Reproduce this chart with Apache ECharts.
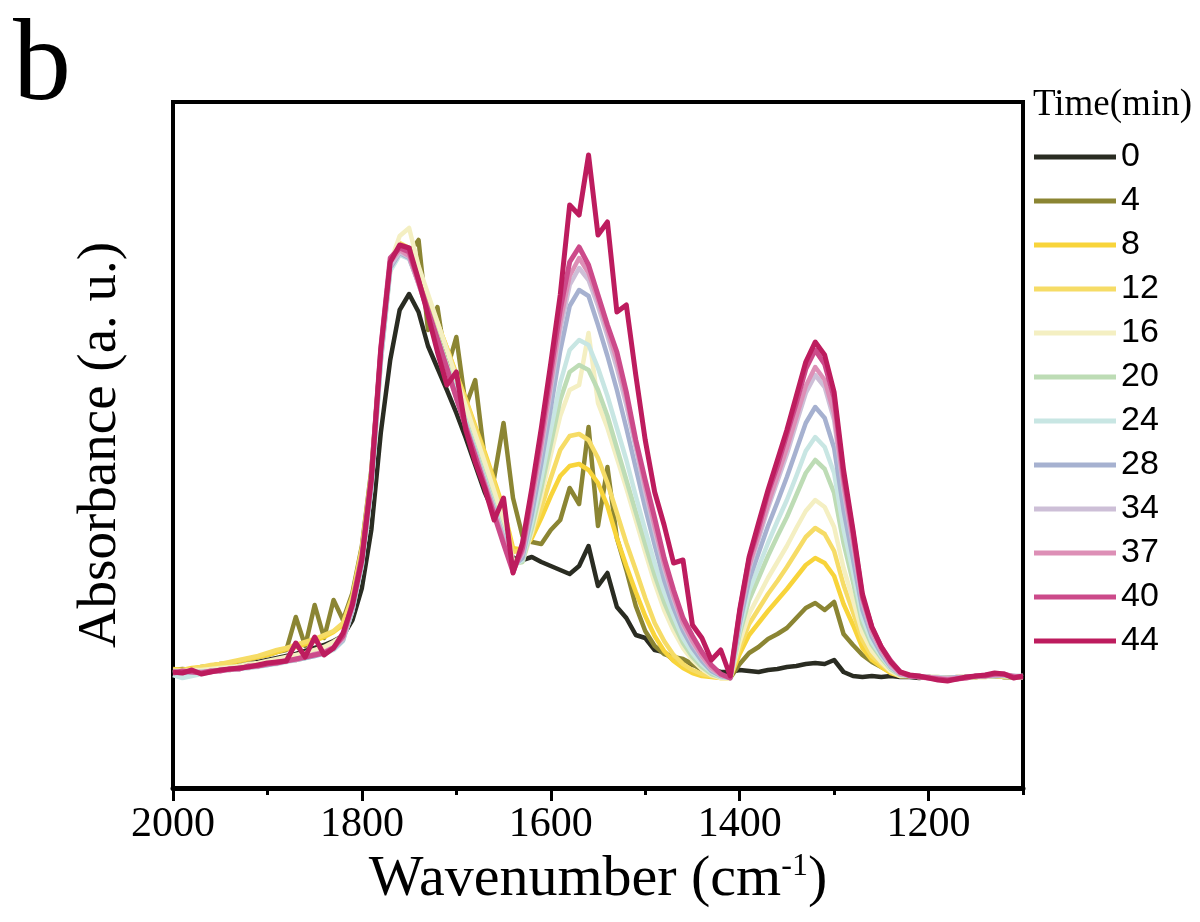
<!DOCTYPE html>
<html><head><meta charset="utf-8">
<script src="https://cdn.jsdelivr.net/npm/echarts@6/dist/echarts.min.js"></script>
<style>html,body{margin:0;padding:0;background:#fff}#c{width:1200px;height:922px}</style>
</head><body><div id="c"></div>
<script>
const wavenumbers = [2000,1990,1980,1970,1960,1950,1940,1930,1920,1910,1900,1890,1880,1870,1860,1850,1840,1830,
1820,1810,1800,1790,1780,1770,1760,1750,1740,1730,1720,1710,1700,1690,1680,1670,1660,1650,1640,
1630,1620,1610,1600,1590,1580,1570,1560,1550,1540,1530,1520,1510,1500,1490,1480,1470,1460,1450,1440,1430,1420,
1410,1400,1390,1380,1370,1360,1350,1340,1330,1320,1310,1300,1290,1280,1270,1260,1250,1240,1230,
1220,1210,1200,1190,1180,1170,1160,1150,1140,1130,1120,1110,1100];

const times = ['0','4','8','12','16','20','24','28','34','37','40','44'];
const colors = ['#2a2c22','#8b8533','#f8d43a','#f6dc66','#f4efc2','#bddcb5','#c8e6e3','#a6b1d0','#cdbfd7','#dd8fb6','#cc4a8a','#bd1c5e'];

const abs0 = [116,117,116,118,119,120,121,122,124,126,128,130,132,134,137,140,143,147,
152,168,200,258,355,428,478,494,476,442,420,398,375,350,323,296,275,252,230,
228,231,226,222,218,214,222,242,202,215,181,170,153,150,138,136,128,127,123,122,119,116,
116,118,117,116,118,119,121,122,124,125,124,128,116,112,111,112,111,112,111,
111,110,111,110,110,110,111,111,112,112,111,111,111];
const abs4 = [118,119,118,121,122,124,124,127,128,131,133,136,138,171,142,183,150,188,
168,195,242,318,436,524,540,535,548,458,481,418,451,382,408,330,310,365,290,
252,246,244,258,268,300,284,361,262,321,250,218,182,157,142,134,131,129,124,118,114,112,
110,124,135,141,149,154,160,170,180,185,178,186,154,143,133,126,121,116,113,
112,111,111,110,110,110,111,111,112,112,111,111,111];
const abs8 = [119,118,120,121,122,124,125,127,129,131,133,136,139,141,144,147,151,156,
163,190,238,312,432,520,543,538,514,490,465,440,414,389,362,336,308,279,240,
238,250,270,292,312,322,324,318,305,282,250,222,196,172,152,137,127,120,115,112,111,110,
110,134,153,165,177,188,199,211,223,230,225,212,184,163,140,128,121,115,112,
112,111,111,110,110,111,111,111,112,112,111,111,111];
const abs12 = [118,118,119,121,123,124,126,128,130,132,135,138,140,143,146,149,153,157,
165,192,240,315,435,522,545,540,515,490,465,440,413,388,360,333,305,275,236,
238,254,280,310,338,352,354,348,330,305,275,245,218,190,165,147,133,124,118,114,112,110,
110,140,164,179,194,207,221,236,251,260,254,237,203,176,148,132,124,116,112,
112,112,111,111,110,110,111,111,111,112,112,111,111];
const abs16 = [117,117,118,118,119,120,121,122,124,125,127,129,131,133,135,138,141,146,
152,182,228,305,432,525,552,560,522,494,466,438,410,382,354,326,297,268,228,
226,256,292,333,372,398,403,455,385,360,330,300,268,236,205,178,157,140,128,119,113,110,
110,146,174,192,210,226,242,260,277,288,281,261,220,188,155,137,126,117,112,
112,111,111,110,110,110,110,111,111,112,112,111,111];
const abs20 = [115,116,116,116,117,118,118,120,121,122,123,125,127,128,130,133,135,139,
148,178,223,299,426,518,534,530,506,479,452,424,396,368,340,312,283,255,224,
226,260,300,344,388,416,423,418,398,372,340,308,276,244,213,186,164,145,131,121,114,111,
110,154,188,210,232,252,271,293,315,328,319,295,245,206,164,143,130,119,113,
112,111,111,110,110,110,111,111,112,112,112,111,111];
const abs24 = [113,110,112,114,116,117,118,119,120,121,123,124,126,128,130,132,134,138,
147,177,222,298,425,517,533,529,505,478,450,422,394,366,337,309,281,253,222,
228,266,310,358,405,438,448,443,420,392,360,328,292,258,225,196,172,150,135,124,116,111,
110,158,197,221,245,267,288,312,337,351,341,315,259,216,170,146,132,120,114,
112,112,111,111,110,110,111,112,112,113,112,112,112];
const abs28 = [115,115,116,116,117,118,119,119,121,122,123,125,127,128,130,132,135,139,
148,178,224,300,428,520,535,530,505,477,449,420,392,364,336,307,279,250,222,
230,274,325,380,437,482,498,492,463,432,398,360,320,280,243,208,180,157,140,127,117,112,
110,164,208,235,262,286,311,338,365,381,370,340,278,229,178,151,134,121,114,
112,111,111,110,110,111,111,112,112,112,113,112,111];
const abs34 = [117,116,117,116,117,117,119,120,120,122,124,125,127,129,131,133,136,140,
149,180,226,305,432,522,536,531,504,476,448,419,391,362,334,306,277,249,220,
234,284,338,398,458,503,520,508,482,452,420,383,340,296,257,220,189,163,145,131,119,113,
110,170,219,249,280,307,334,365,395,413,401,368,298,243,186,155,137,122,114,
112,112,111,110,110,110,111,112,112,113,113,112,112];
const abs37 = [116,116,117,115,116,118,118,120,121,122,124,126,128,128,131,134,136,141,
150,182,230,310,436,526,538,532,504,476,447,418,390,361,333,305,276,247,218,
236,288,343,404,466,512,530,515,488,458,428,390,345,302,262,224,192,165,147,132,120,113,
110,172,222,253,284,312,340,371,402,421,408,374,303,247,188,157,138,124,114,
113,112,111,110,109,110,111,112,113,113,113,112,111];
const abs40 = [115,117,116,115,117,117,119,119,122,122,124,125,127,129,131,133,135,140,
152,185,232,312,440,530,540,536,507,478,449,420,390,361,332,302,273,244,216,
240,296,353,416,478,526,541,523,493,463,436,396,348,308,270,230,198,170,152,136,123,114,
110,176,229,260,295,322,354,385,419,438,424,390,312,255,191,161,141,127,116,
112,111,110,109,108,109,110,112,112,114,114,111,111];
const abs44 = [116,115,118,114,116,118,119,120,121,123,125,126,127,145,131,151,133,140,
155,183,228,308,438,526,543,540,508,473,436,403,416,358,326,300,268,290,215,
245,300,360,425,493,583,573,633,553,566,476,483,413,348,296,263,225,228,163,150,128,138,
112,178,231,265,298,328,358,392,426,446,433,396,318,258,194,161,141,126,116,
113,112,110,108,107,109,111,112,113,115,114,110,112];

const spectra = [abs0,abs4,abs8,abs12,abs16,abs20,abs24,abs28,abs34,abs37,abs40,abs44];
const majorTicks = [2000,1800,1600,1400,1200];
const minorTicks = [1900,1700,1500,1300,1100];

const serif = "'Times New Roman','Liberation Serif',serif";
const sans = "Arial,'Liberation Sans',sans-serif";

const chart = echarts.init(document.getElementById('c'), null, {renderer:'canvas'});
chart.setOption({
  animation: false,
  backgroundColor: '#fff',
  title: [
    {text: 'b', left: 8, top: 6, textStyle: {fontFamily: serif, fontSize: 116, fontWeight: 'normal', color: '#000'}},
    {text: 'Time(min)', left: 1028, top: 82, textStyle: {fontFamily: serif, fontSize: 37, fontWeight: 'normal', color: '#000'}}
  ],
  legend: {
    orient: 'vertical', left: 1029, top: 135,
    itemWidth: 82, itemHeight: 5, itemGap: 10, icon: 'rect',
    textStyle: {fontFamily: sans, fontSize: 34, lineHeight: 34, color: '#000'},
    data: times
  },
  grid: {left: 173, right: 177, top: 102, bottom: 134, show: true, borderColor: '#000', borderWidth: 4, containLabel: false},
  xAxis: [
    {
      type: 'value', min: 1100, max: 2000, inverse: true, position: 'bottom',
      axisLine: {show: true, lineStyle: {color: '#000', width: 5}},
      axisTick: {show: true, customValues: majorTicks, length: 13, lineStyle: {color: '#000', width: 3}},
      axisLabel: {show: true, customValues: majorTicks, formatter: v => String(v), fontFamily: serif, fontSize: 42, color: '#000', margin: 16},
      splitLine: {show: false},
      name: 'Wavenumber (cm{sup|-1})', nameLocation: 'middle', nameGap: 60,
      nameTextStyle: {fontFamily: serif, fontSize: 58, color: '#000',
        rich: {sup: {fontFamily: serif, fontSize: 32, color: '#000', verticalAlign: 'top', lineHeight: 30, padding: [0,0,30,0]}}}
    },
    {
      type: 'value', min: 1100, max: 2000, inverse: true, position: 'bottom',
      axisLine: {show: false},
      axisTick: {show: true, customValues: minorTicks, length: 7, lineStyle: {color: '#000', width: 3}},
      axisLabel: {show: false},
      splitLine: {show: false}
    }
  ],
  yAxis: {
    type: 'value', min: 0, max: 686,
    axisLine: {show: true, lineStyle: {color: '#000', width: 4}},
    axisTick: {show: false}, axisLabel: {show: false}, splitLine: {show: false},
    name: 'Absorbance (a. u.)', nameLocation: 'middle', nameGap: 45,
    nameTextStyle: {fontFamily: serif, fontSize: 55, color: '#000'}
  },
  series: times.map((t, i) => ({
    name: t, type: 'line', xAxisIndex: 0,
    data: wavenumbers.map((w, j) => [w, spectra[i][j]]),
    showSymbol: false, symbol: 'none', z: 2 + i,
    lineStyle: {width: i >= 10 ? 5 : 4.5, color: colors[i], join: 'round'},
    itemStyle: {color: colors[i]}
  }))
});
</script></body></html>
